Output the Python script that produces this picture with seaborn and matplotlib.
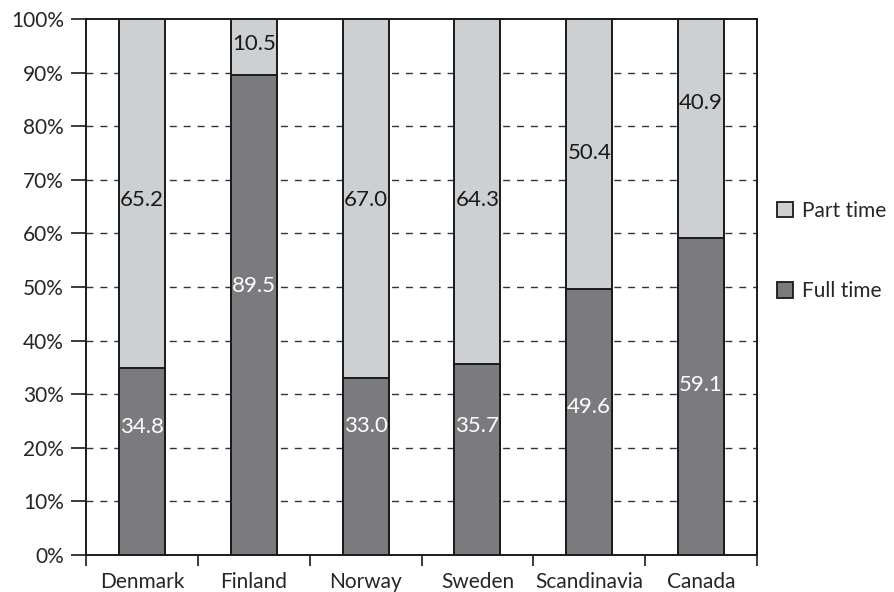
import matplotlib
matplotlib.use("Agg")
import matplotlib.pyplot as plt
from matplotlib.patches import Patch
from matplotlib.ticker import FixedLocator, PercentFormatter
import seaborn as sns
import pandas as pd

# Share of employment by working-time status (%)
regions = ["Denmark", "Finland", "Norway", "Sweden", "Scandinavia", "Canada"]
full_time = [34.8, 89.5, 33.0, 35.7, 49.6, 59.1]
part_time = [65.2, 10.5, 67.0, 64.3, 50.4, 40.9]

# Vertical placement of the value labels (in axis percent)
full_label_y = [23.9, 50.2, 24.0, 24.0, 27.6, 31.7]
part_label_y = [66.2, 95.3, 66.2, 66.2, 75.0, 84.3]

sns.set_theme(style="white")
plt.rcParams["font.family"] = ["Lato", "DejaVu Sans"]

PART_COLOR = "#cdd0d3"
FULL_COLOR = "#7b7a7f"
EDGE = "#1a1a1a"
FS = 15

df = pd.DataFrame({"region": regions, "full": full_time, "part": part_time})
df["total"] = df["full"] + df["part"]

fig = plt.figure(figsize=(8.94, 5.92), dpi=100)
ax = fig.add_axes([86 / 894, 37 / 592, (757 - 86) / 894, (555 - 19) / 592])

# Stacked bars: full stack in part-time colour, full-time portion on top
sns.barplot(data=df, x="region", y="total", color=PART_COLOR, width=0.41,
            edgecolor=EDGE, linewidth=1.4, saturation=1, ax=ax, zorder=3)
sns.barplot(data=df, x="region", y="full", color=FULL_COLOR, width=0.41,
            edgecolor=EDGE, linewidth=1.4, saturation=1, ax=ax, zorder=4)

for i in range(len(regions)):
    ax.text(i, full_label_y[i], f"{full_time[i]:.1f}", ha="center", va="center",
            color="white", fontsize=FS + 1, zorder=5)
    ax.text(i, part_label_y[i], f"{part_time[i]:.1f}", ha="center", va="center",
            color="#1a1a1a", fontsize=FS + 1, zorder=5)

ax.set_xlim(-0.5, len(regions) - 0.5)
ax.set_ylim(0, 100)
ax.set_xlabel("")
ax.set_ylabel("")

# Dashed horizontal gridlines behind bars
for y in range(10, 100, 10):
    ax.axhline(y, color="#333333", linewidth=1.0, linestyle=(0, (5, 5)), zorder=1)

ax.yaxis.set_major_locator(FixedLocator(range(0, 101, 10)))
ax.yaxis.set_major_formatter(PercentFormatter(decimals=0))
ax.tick_params(axis="y", which="major", direction="out", length=11, width=1.2,
               color=EDGE, labelsize=FS, pad=5, left=True)

# Category labels centred; tick marks at category boundaries
ax.set_xticks([i - 0.5 for i in range(len(regions) + 1)])
ax.set_xticklabels([])
ax.set_xticks(range(len(regions)), minor=True)
ax.set_xticklabels(regions, minor=True)
ax.tick_params(axis="x", which="major", direction="out", length=8, width=1.2,
               color=EDGE, bottom=True)
ax.tick_params(axis="x", which="minor", length=0, labelsize=FS, pad=12)

for s in ax.spines.values():
    s.set_visible(True)
    s.set_color(EDGE)
    s.set_linewidth(1.4)

handles = [Patch(facecolor=PART_COLOR, edgecolor=EDGE, linewidth=1.3, label="Part time"),
           Patch(facecolor=FULL_COLOR, edgecolor=EDGE, linewidth=1.3, label="Full time")]
fig.legend(handles=handles, loc="center left", bbox_to_anchor=(767 / 894, 1 - 251 / 592),
           frameon=False, fontsize=FS, handlelength=0.75, handleheight=0.75,
           handletextpad=0.45, labelspacing=2.9, borderpad=0)

fig.savefig("out.png", dpi=100)
